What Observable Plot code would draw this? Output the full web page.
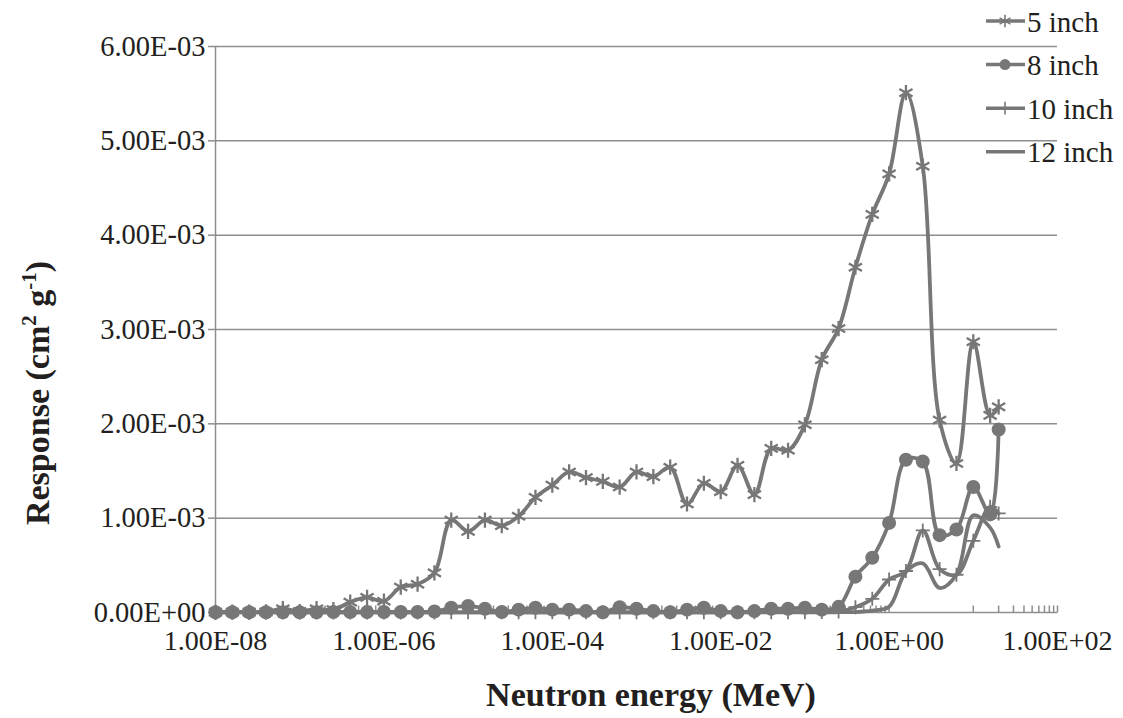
<!DOCTYPE html>
<html>
<head>
<meta charset="utf-8">
<script src="https://cdn.jsdelivr.net/npm/d3@7"></script>
<script src="https://cdn.jsdelivr.net/npm/@observablehq/plot@0.6"></script>
<style>
  html, body { margin: 0; padding: 0; background: #ffffff; }
  #chart svg { display: block; }
</style>
</head>
<body>
<div id="chart"></div>
<script>
// Neutron energy grid (MeV): five points per decade, last point at 20 MeV
const energy = [
  1.000e-8, 1.585e-8, 2.512e-8, 3.981e-8, 6.310e-8,
  1.000e-7, 1.585e-7, 2.512e-7, 3.981e-7, 6.310e-7,
  1.000e-6, 1.585e-6, 2.512e-6, 3.981e-6, 6.310e-6,
  1.000e-5, 1.585e-5, 2.512e-5, 3.981e-5, 6.310e-5,
  1.000e-4, 1.585e-4, 2.512e-4, 3.981e-4, 6.310e-4,
  1.000e-3, 1.585e-3, 2.512e-3, 3.981e-3, 6.310e-3,
  1.000e-2, 1.585e-2, 2.512e-2, 3.981e-2, 6.310e-2,
  0.1000, 0.1585, 0.2512, 0.3981, 0.6310,
  1.000, 1.585, 2.512, 3.981, 6.310,
  10.00, 15.85, 20.00
];

// Response (cm^2 g^-1) of each sphere
const resp5 = [
  0.002e-3, 0.003e-3, 0.004e-3, 0.006e-3, 0.04e-3,
  0.01e-3, 0.04e-3, 0.03e-3, 0.11e-3, 0.16e-3,
  0.12e-3, 0.27e-3, 0.30e-3, 0.42e-3, 0.98e-3,
  0.86e-3, 0.98e-3, 0.92e-3, 1.02e-3, 1.22e-3,
  1.35e-3, 1.49e-3, 1.43e-3, 1.39e-3, 1.33e-3,
  1.49e-3, 1.44e-3, 1.54e-3, 1.15e-3, 1.37e-3,
  1.28e-3, 1.56e-3, 1.25e-3, 1.74e-3, 1.72e-3,
  1.99e-3, 2.68e-3, 3.01e-3, 3.66e-3, 4.22e-3,
  4.65e-3, 5.51e-3, 4.73e-3, 2.04e-3, 1.58e-3,
  2.87e-3, 2.09e-3, 2.18e-3
];
const resp8 = [
  0.003e-3, 0.003e-3, 0.003e-3, 0.003e-3, 0.003e-3,
  0.003e-3, 0.003e-3, 0.004e-3, 0.004e-3, 0.004e-3,
  0.005e-3, 0.005e-3, 0.006e-3, 0.01e-3, 0.05e-3,
  0.07e-3, 0.04e-3, 0.005e-3, 0.03e-3, 0.05e-3,
  0.03e-3, 0.03e-3, 0.015e-3, 0.002e-3, 0.056e-3,
  0.04e-3, 0.015e-3, 0.002e-3, 0.03e-3, 0.05e-3,
  0.015e-3, 0.002e-3, 0.015e-3, 0.04e-3, 0.04e-3,
  0.05e-3, 0.03e-3, 0.06e-3, 0.38e-3, 0.58e-3,
  0.95e-3, 1.62e-3, 1.60e-3, 0.82e-3, 0.88e-3,
  1.33e-3, 1.04e-3, 1.94e-3
];
const resp10 = [
  0.001e-3, 0.001e-3, 0.001e-3, 0.001e-3, 0.001e-3,
  0.001e-3, 0.001e-3, 0.001e-3, 0.001e-3, 0.001e-3,
  0.001e-3, 0.001e-3, 0.001e-3, 0.001e-3, 0.002e-3,
  0.002e-3, 0.002e-3, 0.002e-3, 0.002e-3, 0.002e-3,
  0.002e-3, 0.002e-3, 0.002e-3, 0.002e-3, 0.002e-3,
  0.002e-3, 0.002e-3, 0.002e-3, 0.002e-3, 0.002e-3,
  0.002e-3, 0.002e-3, 0.003e-3, 0.003e-3, 0.003e-3,
  0.004e-3, 0.005e-3, 0.01e-3, 0.056e-3, 0.145e-3,
  0.35e-3, 0.44e-3, 0.87e-3, 0.46e-3, 0.40e-3,
  0.76e-3, 1.12e-3, 1.05e-3
];
const resp12 = [
  0.001e-3, 0.001e-3, 0.001e-3, 0.001e-3, 0.001e-3,
  0.001e-3, 0.001e-3, 0.001e-3, 0.001e-3, 0.001e-3,
  0.001e-3, 0.001e-3, 0.001e-3, 0.001e-3, 0.001e-3,
  0.001e-3, 0.001e-3, 0.001e-3, 0.001e-3, 0.001e-3,
  0.001e-3, 0.001e-3, 0.001e-3, 0.001e-3, 0.001e-3,
  0.001e-3, 0.001e-3, 0.001e-3, 0.001e-3, 0.001e-3,
  0.001e-3, 0.001e-3, 0.001e-3, 0.001e-3, 0.001e-3,
  0.001e-3, 0.002e-3, 0.003e-3, 0.005e-3, 0.02e-3,
  0.06e-3, 0.43e-3, 0.52e-3, 0.26e-3, 0.40e-3,
  1.03e-3, 0.90e-3, 0.70e-3
];

const seriesNames = ["5 inch", "8 inch", "10 inch", "12 inch"];
const yTicks = [0, 0.001, 0.002, 0.003, 0.004, 0.005, 0.006];
const xTicks = [1e-8, 1e-6, 1e-4, 1e-2, 1, 100];

const xTitle = "Neutron energy (MeV)";

// Excel-style scientific labels: 6.00E-03, 1.00E+02
const fmtE = v => {
  const [m, e] = v.toExponential(2).split("e");
  return m + "E" + e[0] + e.slice(1).padStart(2, "0");
};

const lineGray = "#777777";
const axisGray = "#8e8e8e";
const ink = "#231f20";
const serif = "Liberation Serif, Times New Roman, Times, serif";

const rows = (vals, name) => energy.map((e, i) => ({energy: e, value: vals[i], series: name}));
const s5 = rows(resp5, seriesNames[0]);
const s8 = rows(resp8, seriesNames[1]);
const s10 = rows(resp10, seriesNames[2]);
const s12 = rows(resp12, seriesNames[3]);

// minor ticks of the base-100 log axis: 1..9 × 10^odd
const minorTicks = [];
for (let p = -7; p <= 1; p += 2) for (let k = 1; k <= 9; k++) minorTicks.push(k * 10 ** p);

// short upward stroke used as an inside tick mark on the energy axis
const tickUp = {
  draw(context, size) {
    const l = Math.sqrt(size / Math.PI);
    context.moveTo(0, 0);
    context.lineTo(0, -l);
  }
};

const curve = "catmull-rom";
const lw = 3.8;

const chart = Plot.plot({
  width: 1123,
  height: 718,
  marginLeft: 215,
  marginRight: 66,
  marginTop: 46,
  marginBottom: 106,
  style: {fontFamily: serif, color: ink, background: "#ffffff", overflow: "visible"},
  x: {type: "log", domain: [1e-8, 100]},
  y: {domain: [0, 0.006]},
  marks: [
    Plot.ruleY(yTicks.slice(1), {stroke: axisGray, strokeWidth: 1.5}),
    Plot.ruleX([1e-8], {stroke: axisGray, strokeWidth: 1.5}),
    Plot.ruleY([0], {stroke: axisGray, strokeWidth: 1.5}),
    Plot.dot(xTicks.concat(minorTicks), {x: d => d, y: 0, symbol: tickUp, r: 7, stroke: axisGray, strokeWidth: 1.5, fill: "none"}),
    Plot.axisY({ticks: yTicks, tickFormat: fmtE, tickSize: 7, tickPadding: 3, fontSize: 28.5, fontFamily: serif, stroke: axisGray, strokeWidth: 1.5, fill: ink, label: null}),
    Plot.axisX({ticks: xTicks, tickFormat: fmtE, tickSize: 0, tickPadding: 18, fontSize: 28, fontFamily: serif, fill: ink, label: null}),

    Plot.line(s5, {x: "energy", y: "value", stroke: lineGray, strokeWidth: lw, curve}),
    Plot.dot(s5, {x: "energy", y: "value", symbol: "asterisk", r: 7.2, stroke: lineGray, strokeWidth: 2.3}),

    Plot.line(s8, {x: "energy", y: "value", stroke: lineGray, strokeWidth: lw, curve}),
    Plot.dot(s8, {x: "energy", y: "value", symbol: "circle", r: 7, fill: lineGray, stroke: "none"}),

    Plot.line(s10, {x: "energy", y: "value", stroke: lineGray, strokeWidth: lw, curve}),
    Plot.dot(s10, {x: "energy", y: "value", symbol: "plus", r: 4.6, stroke: lineGray, strokeWidth: 1.8}),

    Plot.line(s12, {x: "energy", y: "value", stroke: lineGray, strokeWidth: lw, curve})
  ]
});

document.getElementById("chart").appendChild(chart);

const svg = d3.select(chart);

// axis titles
svg.append("text")
  .attr("x", 651)
  .attr("y", 706)
  .attr("text-anchor", "middle")
  .attr("font-family", serif)
  .attr("font-weight", "bold")
  .attr("font-size", 34)
  .attr("fill", ink)
  .text(xTitle);

const yTitle = svg.append("text")
  .attr("transform", "translate(49,393) rotate(-90)")
  .attr("text-anchor", "middle")
  .attr("font-family", serif)
  .attr("font-weight", "bold")
  .attr("font-size", 34)
  .attr("fill", ink);
yTitle.append("tspan").text("Response (cm");
yTitle.append("tspan").attr("font-size", 21).attr("dy", -13).text("2");
yTitle.append("tspan").attr("dy", 13).text(" g");
yTitle.append("tspan").attr("font-size", 21).attr("dy", -13).text("-1");
yTitle.append("tspan").attr("dy", 13).text(")");

// legend, top right
const legendSymbols = [
  {type: d3.symbolAsterisk, size: 110, fill: "none", stroke: lineGray, width: 1.6},
  {type: d3.symbolCircle, size: 95, fill: lineGray, stroke: "none", width: 0},
  {type: d3.symbolPlus, size: 55, fill: "none", stroke: lineGray, width: 1.6},
  null
];
const legend = svg.append("g").attr("text-anchor", "start");
seriesNames.forEach((name, i) => {
  const y = 21 + i * 43.6;
  const g = legend.append("g").attr("transform", `translate(0,${y})`);
  g.append("line")
    .attr("x1", 986).attr("x2", 1025).attr("y1", 0).attr("y2", 0)
    .attr("stroke", lineGray).attr("stroke-width", 3.5);
  const s = legendSymbols[i];
  if (s) {
    g.append("path")
      .attr("transform", "translate(1005,0)")
      .attr("d", d3.symbol(s.type, s.size)())
      .attr("fill", s.fill)
      .attr("stroke", s.stroke)
      .attr("stroke-width", s.width);
  }
  g.append("text")
    .attr("x", 1027).attr("y", 10.5)
    .attr("text-anchor", "start")
    .attr("font-family", serif)
    .attr("font-size", 29)
    .attr("fill", ink)
    .text(name);
});
</script>
</body>
</html>
